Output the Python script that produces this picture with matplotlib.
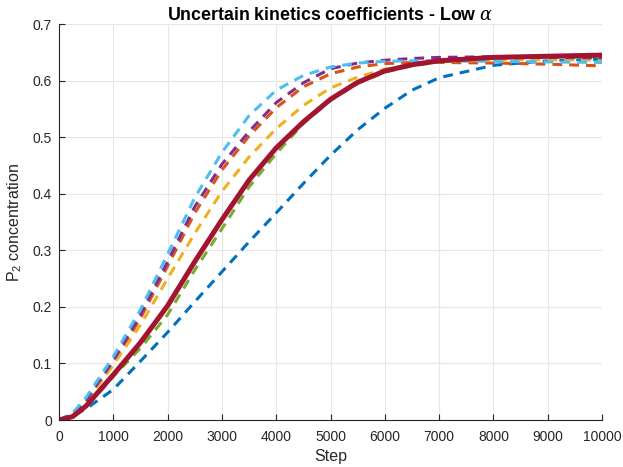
import matplotlib
matplotlib.use("Agg")
from matplotlib import pyplot as plt

plt.rcParams['font.family'] = ['Liberation Sans', 'DejaVu Sans']
plt.rcParams['mathtext.fontset'] = 'custom'
plt.rcParams['mathtext.rm'] = 'Liberation Sans'
plt.rcParams['mathtext.it'] = 'DejaVu Serif:italic'

steps = [0, 250, 500, 1000, 1500, 2000, 2500, 3000, 3500, 4000, 4500, 5000, 5500, 6000, 6500, 7000, 8000, 9000, 10000]

blue = [0, 0.007, 0.02, 0.054, 0.104, 0.155, 0.209, 0.262, 0.315, 0.366, 0.418, 0.468, 0.513, 0.551, 0.583, 0.605, 0.627, 0.635, 0.638]
orange = [0, 0.01, 0.033, 0.10, 0.18, 0.272, 0.366, 0.442, 0.502, 0.552, 0.589, 0.612, 0.624, 0.630, 0.632, 0.632, 0.631, 0.629, 0.626]
yellow = [0, 0.01, 0.033, 0.097, 0.168, 0.25, 0.33, 0.404, 0.465, 0.515, 0.556, 0.587, 0.606, 0.620, 0.628, 0.633, 0.637, 0.637, 0.636]
purple = [0, 0.011, 0.035, 0.105, 0.186, 0.28, 0.377, 0.452, 0.51, 0.561, 0.596, 0.621, 0.631, 0.636, 0.639, 0.641, 0.642, 0.641, 0.640]
green = [0, 0.005, 0.022, 0.077, 0.127, 0.186, 0.265, 0.338, 0.412, 0.471, 0.524, 0.565, 0.595, 0.615, 0.626, 0.633, 0.640, 0.642, 0.643]
cyan = [0, 0.012, 0.04, 0.112, 0.195, 0.293, 0.393, 0.473, 0.538, 0.583, 0.609, 0.624, 0.631, 0.634, 0.635, 0.635, 0.634, 0.633, 0.632]
red = [0, 0.006, 0.025, 0.08, 0.137, 0.202, 0.28, 0.354, 0.424, 0.481, 0.527, 0.567, 0.597, 0.617, 0.628, 0.635, 0.641, 0.643, 0.645]

dashed = [(blue, '#0072BD'), (orange, '#D95319'), (yellow, '#EDB120'),
          (purple, '#7E2F8E'), (green, '#77AC30'), (cyan, '#4DBEEE')]

fig = plt.figure(figsize=(6.23, 4.67), dpi=100)
ax = fig.add_axes([0.0947, 0.1006, 0.8716, 0.848])

for vals, col in dashed:
    ax.plot(steps, vals, color=col, lw=2.2, ls=(0, (3.2, 2.3)))
ax.plot(steps, red, color='#A2142F', lw=3.6, solid_capstyle='round')

ax.set_xlim(0, 10000)
ax.set_ylim(0, 0.7)
ax.set_xticks(range(0, 10001, 1000))
ax.set_yticks([0, 0.1, 0.2, 0.3, 0.4, 0.5, 0.6, 0.7])
ax.set_yticklabels(['0', '0.1', '0.2', '0.3', '0.4', '0.5', '0.6', '0.7'])
ax.grid(True, color='#E6E6E6', lw=0.8)
ax.set_axisbelow(True)
for s in ['top', 'right']:
    ax.spines[s].set_visible(False)
for s in ['left', 'bottom']:
    ax.spines[s].set_color('#262626')
    ax.spines[s].set_linewidth(0.8)
ax.tick_params(direction='in', length=4, width=0.8, color='#262626',
               labelsize=10, labelcolor='#262626')
ax.tick_params(axis='x', pad=7.5)
ax.tick_params(axis='y', pad=5)

ax.set_xlabel('Step', fontsize=11.5, color='#262626', labelpad=3)
ax.set_ylabel(r'P$_2$ concentration', fontsize=11.5, color='#262626', labelpad=6)
ax.set_title(r'Uncertain kinetics coefficients - Low $\it{\alpha}$', fontsize=12.8,
             fontweight='bold', color='black', pad=3)

plt.savefig('out.png', dpi=100)
